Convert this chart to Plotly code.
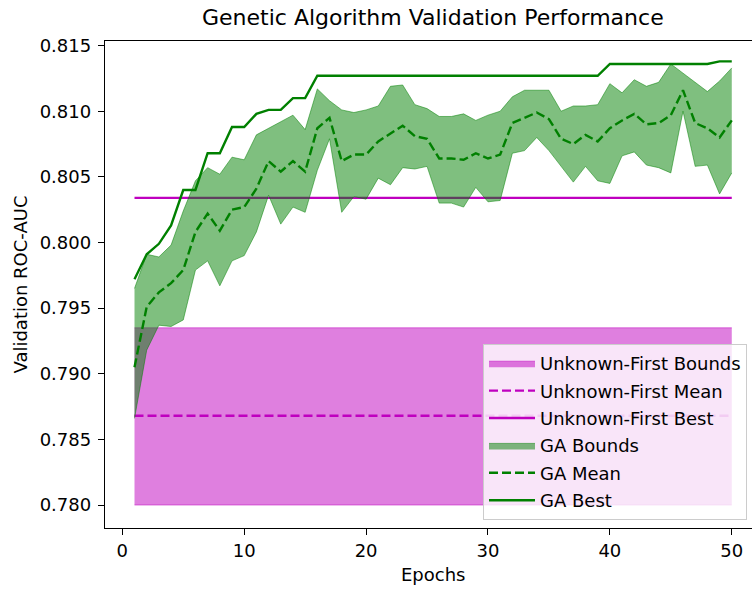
import plotly.graph_objects as go

epochs = list(range(1, 51))

ga_best = [0.7972, 0.7991, 0.7999, 0.8013, 0.8040, 0.8040, 0.8068, 0.8068, 0.8088, 0.8088,
           0.8098, 0.8101, 0.8101, 0.8110, 0.8110, 0.8127, 0.8127, 0.8127, 0.8127, 0.8127,
           0.8127, 0.8127, 0.8127, 0.8127, 0.8127, 0.8127, 0.8127, 0.8127, 0.8127, 0.8127,
           0.8127, 0.8127, 0.8127, 0.8127, 0.8127, 0.8127, 0.8127, 0.8127, 0.8127, 0.8136,
           0.8136, 0.8136, 0.8136, 0.8136, 0.8136, 0.8136, 0.8136, 0.8136, 0.8138, 0.8138]

ga_upper = [0.7965, 0.7991, 0.7989, 0.7998, 0.8024, 0.8047, 0.8057, 0.8052, 0.8065, 0.8063,
            0.8082, 0.8087, 0.8092, 0.8097, 0.8086, 0.8117, 0.8108, 0.8101, 0.8099, 0.8101,
            0.8104, 0.8119, 0.8120, 0.8105, 0.8102, 0.8096, 0.8096, 0.8098, 0.8093, 0.8097,
            0.8100, 0.8111, 0.8116, 0.8116, 0.8116, 0.8100, 0.8104, 0.8104, 0.8105, 0.8121,
            0.8114, 0.8124, 0.8119, 0.8122, 0.8136, 0.8129, 0.8122, 0.8115, 0.8123, 0.8133]

ga_lower = [0.7866, 0.7918, 0.7937, 0.7936, 0.7941, 0.7979, 0.7986, 0.7967, 0.7986, 0.7990,
            0.8008, 0.8036, 0.8014, 0.8027, 0.8023, 0.8055, 0.8079, 0.8023, 0.8035, 0.8033,
            0.8049, 0.8044, 0.8057, 0.8056, 0.8058, 0.8030, 0.8030, 0.8027, 0.8042, 0.8031,
            0.8032, 0.8068, 0.8070, 0.8080, 0.8070, 0.8058, 0.8046, 0.8058, 0.8047, 0.8045,
            0.8066, 0.8069, 0.8059, 0.8057, 0.8053, 0.8100, 0.8058, 0.8059, 0.8037, 0.8053]

ga_mean = [0.7905, 0.7951, 0.7962, 0.7969, 0.7979, 0.8008, 0.8022, 0.8009, 0.8025, 0.8027,
           0.8041, 0.8062, 0.8054, 0.8062, 0.8054, 0.8087, 0.8095, 0.8062, 0.8067, 0.8067,
           0.8077, 0.8083, 0.8089, 0.8081, 0.8079, 0.8064, 0.8064, 0.8063, 0.8068, 0.8064,
           0.8067, 0.8091, 0.8095, 0.8099, 0.8094, 0.8079, 0.8075, 0.8082, 0.8077, 0.8087,
           0.8093, 0.8098, 0.8090, 0.8091, 0.8097, 0.8116, 0.8091, 0.8087, 0.8080, 0.8093]

uf_lower_value = 0.7800
uf_upper_value = 0.7935
uf_mean_value = 0.7868
uf_best_value = 0.8034
uf_lower = [uf_lower_value] * len(epochs)
uf_upper = [uf_upper_value] * len(epochs)
uf_mean = [uf_mean_value] * len(epochs)
uf_best = [uf_best_value] * len(epochs)

x_ticks = [0, 10, 20, 30, 40, 50]
y_ticks = [0.780, 0.785, 0.790, 0.795, 0.800, 0.805, 0.810, 0.815]

MAG = "#bf00bf"
MAG_FILL = "rgba(191,0,191,0.5)"
GRN = "#008000"
GRN_FILL = "rgba(0,128,0,0.5)"
FONT = "DejaVu Sans"
LW = 2.4
DASH = "9px,4px"
FS = 18

fig = go.Figure()

fig.add_trace(go.Scatter(x=epochs, y=uf_lower, mode="lines", line=dict(color=MAG_FILL, width=1),
                         showlegend=False, hoverinfo="skip", legendgroup="a"))
fig.add_trace(go.Scatter(x=epochs, y=uf_upper, mode="lines", line=dict(color=MAG_FILL, width=1),
                         fill="tonexty", fillcolor=MAG_FILL, name="Unknown-First Bounds", legendgroup="a"))
fig.add_trace(go.Scatter(x=epochs, y=uf_mean, mode="lines", line=dict(color=MAG, width=LW, dash=DASH),
                         name="Unknown-First Mean", legendgroup="b"))
fig.add_trace(go.Scatter(x=epochs, y=uf_best, mode="lines", line=dict(color=MAG, width=LW),
                         name="Unknown-First Best", legendgroup="c"))
fig.add_trace(go.Scatter(x=epochs, y=ga_lower, mode="lines", line=dict(color=GRN_FILL, width=1),
                         showlegend=False, hoverinfo="skip", legendgroup="d"))
fig.add_trace(go.Scatter(x=epochs, y=ga_upper, mode="lines", line=dict(color=GRN_FILL, width=1),
                         fill="tonexty", fillcolor=GRN_FILL, name="GA Bounds", legendgroup="d"))
fig.add_trace(go.Scatter(x=epochs, y=ga_mean, mode="lines", line=dict(color=GRN, width=LW, dash=DASH),
                         name="GA Mean", legendgroup="e"))
fig.add_trace(go.Scatter(x=epochs, y=ga_best, mode="lines", line=dict(color=GRN, width=LW),
                         name="GA Best", legendgroup="f"))

W, H = 752, 589
L, R, T, B = 105, 0, 41, 61
pw = W - L - R
ph = H - T - B

fig.update_layout(
    width=W, height=H,
    margin=dict(l=L, r=R, t=T, b=B, autoexpand=False),
    paper_bgcolor="white", plot_bgcolor="white",
    font=dict(family=FONT, size=FS, color="black"),
    showlegend=True,
    legend=dict(
        x=(483 - L) / pw, y=1 - (344 - T) / ph, xanchor="left", yanchor="top",
        bgcolor="rgba(255,255,255,0.8)", bordercolor="#cccccc", borderwidth=1,
        font=dict(family=FONT, size=FS, color="black"),
        traceorder="grouped", tracegroupgap=1, itemwidth=46,
    ),
    xaxis=dict(
        range=[-1.42, 51.66], tickvals=x_ticks, ticktext=[str(v) for v in x_ticks],
        showgrid=False, zeroline=False, showline=True, linecolor="black", linewidth=1.4,
        mirror=True, ticks="outside", ticklen=6, tickwidth=1.4, tickcolor="black",
        tickfont=dict(family=FONT, size=FS, color="black"),
    ),
    yaxis=dict(
        range=[0.77825, 0.81535], tickvals=y_ticks, ticktext=[f"{v:.3f}" for v in y_ticks],
        showgrid=False, zeroline=False, showline=True, linecolor="black", linewidth=1.4,
        mirror=False, ticks="outside", ticklen=6, tickwidth=1.4, tickcolor="black",
        tickfont=dict(family=FONT, size=FS, color="black"), ticklabelstandoff=3,
    ),
    annotations=[
        dict(text="Genetic Algorithm Validation Performance", xref="paper", yref="paper",
             x=(433.5 - L) / pw, y=1 + (T - 18) / ph, xanchor="center", yanchor="middle",
             showarrow=False, font=dict(family=FONT, size=22, color="black")),
        dict(text="Epochs", xref="paper", yref="paper",
             x=(433.5 - L) / pw, y=-(574 - (H - B)) / ph, xanchor="center", yanchor="middle",
             showarrow=False, font=dict(family=FONT, size=FS, color="black")),
        dict(text="Validation ROC-AUC", xref="paper", yref="paper", textangle=-90,
             x=(20 - L) / pw, y=0.5, xanchor="center", yanchor="middle",
             showarrow=False, font=dict(family=FONT, size=FS, color="black")),
    ],
)

fig.write_html("out.html", config={"displayModeBar": False},
               post_script="document.body.style.margin='0px';document.body.style.overflow='hidden';")
